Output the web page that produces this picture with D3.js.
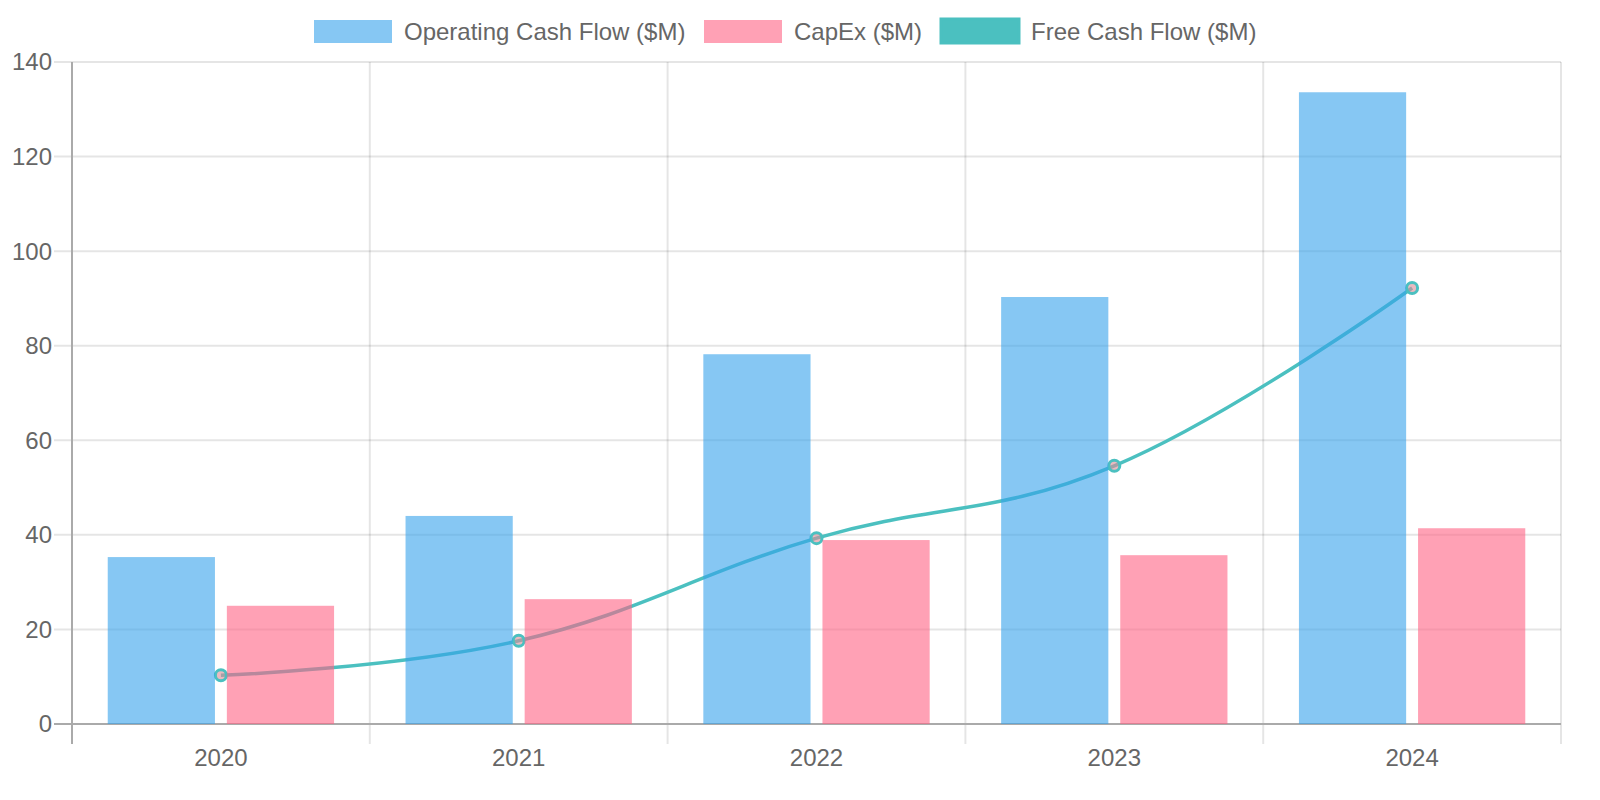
<!DOCTYPE html>
<meta charset="utf-8">
<style>
body { margin: 0; background: #fff; overflow: hidden; }
svg { display: block; }
text { font-family: "Liberation Sans", Arial, sans-serif; fill: #666; }
</style>
<body>
<script src="https://cdn.jsdelivr.net/npm/d3@7"></script>
<div id="content"></div>
<script>
var width = 1600,
    height = 800;

var years = ["2020", "2021", "2022", "2023", "2024"];
var operatingCash = [35.3, 44.0, 78.2, 90.3, 133.6];
var capex = [25.0, 26.4, 38.9, 35.7, 41.4];
var freeCash = [10.3, 17.6, 39.3, 54.6, 92.2];
var yTicks = [0, 20, 40, 60, 80, 100, 120, 140];
var seriesNames = ["Operating Cash Flow ($M)", "CapEx ($M)", "Free Cash Flow ($M)"];

var plotLeft = 72, plotRight = 1561, plotTop = 62, plotBottom = 724;

var svg = d3.select("#content").append("svg")
    .attr("width", width)
    .attr("height", height);

var x = d3.scaleBand().domain(years).range([plotLeft, plotRight]);
var y = d3.scaleLinear().domain([0, 140]).range([plotBottom, plotTop]);
// two bars per year, 80% of the band, 90% of each slot
var inner = d3.scaleBand().domain([0, 1])
    .range([0, x.bandwidth() * 0.8]).paddingInner(0.1).paddingOuter(0.05);

// grid
svg.selectAll(".hgrid")
    .data(yTicks)
    .enter().append("line")
    .attr("x1", plotLeft - 18).attr("x2", plotRight)
    .attr("y1", d => y(d)).attr("y2", d => y(d))
    .style("stroke", "rgba(0,0,0,0.1)").style("stroke-width", 2);

var vlines = years.map(d => x(d)).concat([plotRight]);
svg.selectAll(".vgrid")
    .data(vlines)
    .enter().append("line")
    .attr("x1", d => d).attr("x2", d => d)
    .attr("y1", plotTop).attr("y2", plotBottom + 20)
    .style("stroke", "rgba(0,0,0,0.1)").style("stroke-width", 2);

// axis lines
svg.append("line").attr("x1", plotLeft).attr("x2", plotLeft).attr("y1", plotTop).attr("y2", plotBottom + 20)
    .style("stroke", "#aaa").style("stroke-width", 2);
svg.append("line").attr("x1", plotLeft - 18).attr("x2", plotRight).attr("y1", plotBottom).attr("y2", plotBottom)
    .style("stroke", "#aaa").style("stroke-width", 2);

// tick labels
svg.selectAll(".ylab")
    .data(yTicks)
    .enter().append("text")
    .attr("x", plotLeft - 20).attr("y", d => y(d))
    .attr("dy", "0.35em")
    .attr("text-anchor", "end")
    .style("font-size", "24px")
    .text(d => d);

svg.selectAll(".xlab")
    .data(years)
    .enter().append("text")
    .attr("x", d => x(d) + x.bandwidth() / 2).attr("y", 758)
    .attr("dy", "0.35em")
    .attr("text-anchor", "middle")
    .style("font-size", "24px")
    .text(d => d);

// free cash flow line (drawn under bars)
var line = d3.line()
    .x((d, i) => x(years[i]) + x.bandwidth() / 2)
    .y(d => y(d))
    .curve(d3.curveCardinal.tension(-0.2));

svg.append("path")
    .datum(freeCash)
    .attr("d", line)
    .style("fill", "none")
    .style("stroke", "rgb(75,192,192)")
    .style("stroke-width", 3.5);

svg.selectAll(".pt")
    .data(freeCash)
    .enter().append("circle")
    .attr("cx", (d, i) => x(years[i]) + x.bandwidth() / 2)
    .attr("cy", d => y(d))
    .attr("r", 5.5)
    .style("fill", "rgba(220,140,150,0.6)")
    .style("stroke", "rgb(75,192,192)")
    .style("stroke-width", 3);

// bars
var offset = x.bandwidth() * 0.1;
svg.selectAll(".capex")
    .data(capex)
    .enter().append("rect")
    .attr("x", (d, i) => x(years[i]) + offset + inner(1))
    .attr("y", d => y(d))
    .attr("width", inner.bandwidth())
    .attr("height", d => plotBottom - y(d))
    .style("fill", "rgba(255,99,132,0.6)");

svg.selectAll(".ocf")
    .data(operatingCash)
    .enter().append("rect")
    .attr("x", (d, i) => x(years[i]) + offset + inner(0))
    .attr("y", d => y(d))
    .attr("width", inner.bandwidth())
    .attr("height", d => plotBottom - y(d))
    .style("fill", "rgba(54,162,235,0.6)");

// legend
var legendX = [314, 704, 941];
var legendFill = ["rgba(54,162,235,0.6)", "rgba(255,99,132,0.6)", "rgba(75,192,192,1)"];
var legend = svg.selectAll(".legend")
    .data(seriesNames)
    .enter().append("g")
    .attr("transform", (d, i) => "translate(" + legendX[i] + ",0)");

legend.append("rect")
    .attr("x", 0).attr("y", (d, i) => i == 2 ? 19 : 20)
    .attr("width", 78)
    .attr("height", (d, i) => i == 2 ? 24 : 23)
    .style("fill", (d, i) => legendFill[i])
    .style("stroke", (d, i) => i == 2 ? "rgb(75,192,192)" : "none")
    .style("stroke-width", 3);

legend.append("text")
    .attr("x", 90)
    .attr("y", 32)
    .attr("dy", "0.35em")
    .style("font-size", "24px")
    .text(d => d);
</script>
